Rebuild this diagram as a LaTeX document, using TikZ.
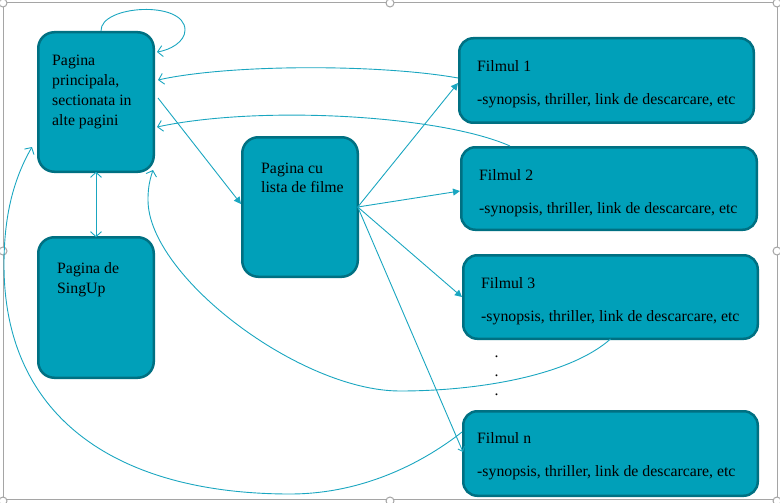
\documentclass[tikz,border=0pt]{standalone}
\usepackage{fontspec}
\setmainfont{Liberation Serif}
\usetikzlibrary{arrows.meta,calc}
\definecolor{boxfill}{RGB}{0,160,185}
\definecolor{boxline}{RGB}{0,112,130}
\definecolor{linkc}{RGB}{26,166,192}
\definecolor{framec}{RGB}{165,165,165}
\begin{document}
\begin{tikzpicture}[x=1pt,y=-1pt,
  pbox/.style={draw=boxline, fill=boxfill, line width=2.5pt, rounded corners=16pt, inner sep=0pt, outer sep=0pt},
  ptext/.style={anchor=base west, inner sep=0pt, align=left, font=\fontsize{15.8}{19.7}\selectfont},
  link/.style={draw=linkc, line width=0.9pt},
  barb/.style={-{Straight Barb[length=5pt,width=11pt]}},
  barbback/.style={{Straight Barb[length=5pt,width=11pt]}-},
  barbboth/.style={{Straight Barb[length=5pt,width=11pt]}-{Straight Barb[length=5pt,width=11pt]}},
  tri/.style={-{Triangle[length=7pt,width=7pt]}},
  handle/.style={draw=framec, fill=white, line width=1pt}
]
\useasboundingbox (0,0) rectangle (780,503);
% selection frame
\draw[framec, line width=1pt] (3,3) rectangle (777,499);
\foreach \p in {(3,3),(390,3),(777,3),(3,251),(777,251),(3,501),(390,501),(777,501)}
  \draw[handle] \p circle[radius=4pt];

% boxes
\node[pbox, minimum width=115.5pt, minimum height=139.5pt] (main) at (96,102) {};
\node[pbox, minimum width=115.5pt, minimum height=140.5pt] (signup) at (96,307.5) {};
\node[pbox, minimum width=115.5pt, minimum height=139.5pt] (lista) at (300,207) {};
\node[pbox, minimum width=294.5pt, minimum height=84.5pt, rounded corners=14pt] (f1) at (606.5,80.5) {};
\node[pbox, minimum width=295.5pt, minimum height=82.5pt, rounded corners=14pt] (f2) at (609,188.5) {};
\node[pbox, minimum width=294.5pt, minimum height=83.5pt, rounded corners=14pt] (f3) at (610.5,297) {};
\node[pbox, minimum width=294.5pt, minimum height=84.5pt, rounded corners=14pt] (fn) at (610.5,453.5) {};

% texts (multi-line nodes: base = baseline of the last line)
\node[ptext] (maintext) at (52,125) {Pagina\\principala,\\sectionata in\\alte pagini};
\node[ptext, font=\fontsize{15.8}{20.5}\selectfont] (signuptext) at (57,293.5) {Pagina de\\SingUp};
\node[ptext, font=\fontsize{15.8}{19.5}\selectfont] (listatext) at (261,192.5) {Pagina cu\\lista de filme};
\node[ptext] (f1a) at (477,71.5) {Filmul 1};
\node[ptext] (f1b) at (477,104) {-synopsis, thriller, link de descarcare, etc};
\node[ptext] (f2a) at (479,180) {Filmul 2};
\node[ptext] (f2b) at (479,213) {-synopsis, thriller, link de descarcare, etc};
\node[ptext] (f3a) at (481,288) {Filmul 3};
\node[ptext] (f3b) at (481,321) {-synopsis, thriller, link de descarcare, etc};
\node[ptext] (fna) at (477,443) {Filmul n};
\node[ptext] (fnb) at (477,476) {-synopsis, thriller, link de descarcare, etc};
\node[ptext] (dot1) at (494.5,357.5) {.};
\node[ptext] (dot2) at (494.5,376.5) {.};
\node[ptext] (dot3) at (494.5,395.5) {.};

% connectors
\draw[link, barb] ($(main.center)+(5,-71)$) .. controls (100,5) and (185,0) .. (185,30)
  .. controls (185,42) and (170,50) .. ($(main.center)+(61,-50)$);
\draw[link, barb] ($(f1.center)+(-148.5,-2.5)$) .. controls (380,64) and (230,64) .. ($(main.center)+(62,-22)$);
\draw[link, barb] ($(f2.center)+(-99,-42.5)$) .. controls (440,115) and (260,105) .. ($(main.center)+(61,25)$);
\draw[link, tri] ($(main.center)+(62,-4)$) -- ($(lista.center)+(-59,-3)$);
\draw[link, tri] (lista.east) -- ($(f1.center)+(-148.5,2.5)$);
\draw[link, tri] (lista.east) -- ($(f2.center)+(-149,2.5)$);
\draw[link, tri] (lista.east) -- ($(f3.center)+(-148.5,0)$);
\draw[link, -{Straight Barb[length=4pt,width=7pt]}] (lista.east) -- ($(fn.center)+(-147.5,-1.5)$);
\draw[link, barbboth] (main.south) -- (signup.north);
\draw[link, barbback] ($(main.center)+(57,68)$) .. controls (149,182) and (148,190) .. (148,200)
  .. controls (148,276) and (300,391) .. (400,391)
  .. controls (480,391) and (570,375) .. ($(f3.center)+(0,42)$);
\draw[link, barbback] ($(main.center)+(-64,45)$) .. controls (10,185) and (4,225) .. (4,265)
  .. controls (4,420) and (120,494) .. (290,494)
  .. controls (360,494) and (420,465) .. ($(fn.center)+(-148.5,-21.5)$);
\end{tikzpicture}
\end{document}
